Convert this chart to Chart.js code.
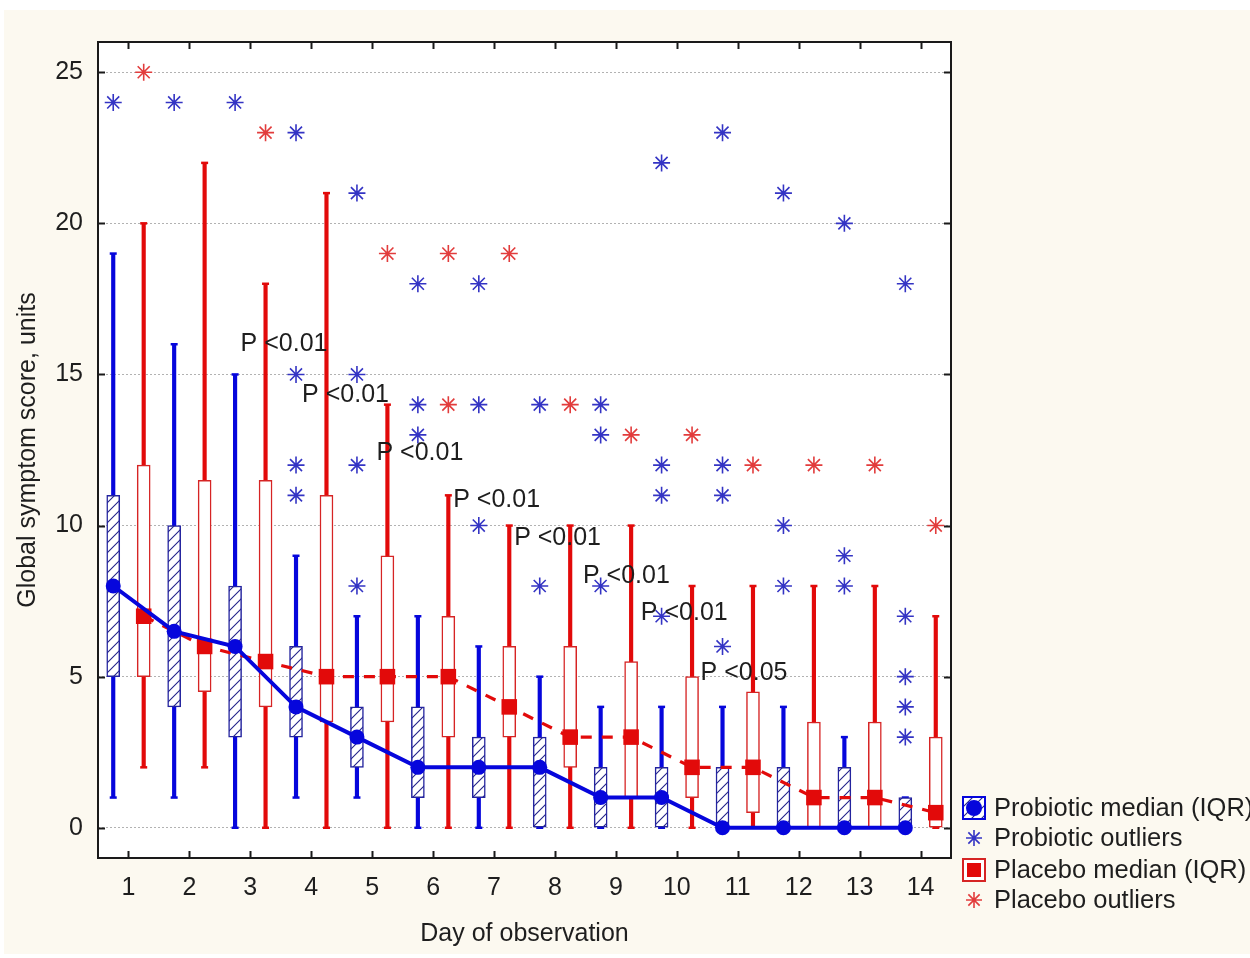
<!DOCTYPE html>
<html><head><meta charset="utf-8">
<script src="https://cdn.jsdelivr.net/npm/chart.js@4.4.0/dist/chart.umd.min.js"></script>
<style>html,body{margin:0;padding:0;background:#fff;overflow:hidden}canvas{display:block}</style>
</head><body>
<canvas id="c" width="1250" height="958" style="width:1250px;height:958px"></canvas>
<script>
// ---------- data ----------
const days = [1,2,3,4,5,6,7,8,9,10,11,12,13,14];
const xTickLabels = ['1','2','3','4','5','6','7','8','9','10','11','12','13','14'];
const yTickValues = [0,5,10,15,20,25];

const probMedian = [8,6.5,6,4,3,2,2,2,1,1,0,0,0,0];
const probQ1     = [5,4,3,3,2,1,1,0,0,0,0,0,0,0];
const probQ3     = [11,10,8,6,4,4,3,3,2,2,2,2,2,1];
const probMin    = [1,1,0,1,1,0,0,0,0,0,0,0,0,0];
const probMax    = [19,16,15,9,7,7,6,5,4,4,4,4,3,1];
const probOutliers = [[24],[24],[24],[23,15,12,11],[21,15,12,8],[18,14,13],[18,14,10],[14,8],[14,13,8],[22,12,11,7],[23,12,11,6],[21,10,8],[20,9,8],[18,7,5,4,3]];

const placMedian = [7,6,5.5,5,5,5,4,3,3,2,2,1,1,0.5];
const placQ1     = [5,4.5,4,3.5,3.5,3,3,2,1,1,0.5,0,0,0];
const placQ3     = [12,11.5,11.5,11,9,7,6,6,5.5,5,4.5,3.5,3.5,3];
const placMin    = [2,2,0,0,0,0,0,0,0,0,0,0,0,0];
const placMax    = [20,22,18,21,14,11,10,10,10,8,8,8,8,7];
const placOutliers = [[25],[],[23],[],[19],[19,14],[19],[14],[13],[13],[12],[12],[12],[10]];

const pLabelTexts = ['P <0.01','P <0.01','P <0.01','P <0.01','P <0.01','P <0.01','P <0.01','P <0.05'];
const pLabelX = [2.84, 3.85, 5.07, 6.33, 7.33, 8.46, 9.41, 10.39];
const pLabelY = [16.0, 14.3, 12.4, 10.85, 9.6, 8.33, 7.1, 5.13];

const legendLabels = ['Probiotic median (IQR)','Probiotic outliers','Placebo median (IQR)','Placebo outliers'];

// ---------- style ----------
const FONT = '"Liberation Sans", Arial, sans-serif';
const BLUE = '#0606dc', BLUE_BOX = '#23239e', BLUE_OUT = '#3434c4';
const RED = '#e20a0a', RED_BOX = '#d62424', RED_OUT = '#e23c3c';
const TXT = '#1e1e1e';
const PROB_OFF = -0.25, PLAC_OFF = 0.25;

const canvas = document.getElementById('c');
const ctx = canvas.getContext('2d');

function makeHatch() {
  const c = document.createElement('canvas');
  c.width = 10; c.height = 10;
  const g = c.getContext('2d');
  g.fillStyle = '#ffffff'; g.fillRect(0,0,10,10);
  g.strokeStyle = '#24248a'; g.lineWidth = 1.1;
  g.beginPath();
  g.moveTo(-1,11); g.lineTo(11,-1);
  g.moveTo(-1,1); g.lineTo(1,-1);
  g.moveTo(9,11); g.lineTo(11,9);
  g.stroke();
  return ctx.createPattern(c, 'repeat');
}
const hatch = makeHatch();

const px = (arr, off) => arr.map((v,i) => ({x: days[i] + off, y: v}));
const rng = (a, b, off) => a.map((v,i) => ({x: days[i] + off, y: [v, b[i]]}));
const caps = (a, b, off) => a.flatMap((v,i) => [{x: days[i] + off, y: v}, {x: days[i] + off, y: b[i]}]);
const outs = (arr, off) => arr.flatMap((list,i) => list.map(v => ({x: days[i] + off, y: v})));

const datasets = [
  {type:'bar', data: rng(probMin, probMax, PROB_OFF), backgroundColor: BLUE, borderWidth:0, barThickness:3.5, grouped:false, order:10},
  {type:'bar', data: rng(placMin, placMax, PLAC_OFF), backgroundColor: RED, borderWidth:0, barThickness:3.5, grouped:false, order:10},
  {type:'scatter', data: caps(probMin, probMax, PROB_OFF), pointStyle:'line', pointRadius:3.5, borderColor: BLUE, borderWidth:2.5, order:9},
  {type:'scatter', data: caps(placMin, placMax, PLAC_OFF), pointStyle:'line', pointRadius:3.5, borderColor: RED, borderWidth:2.5, order:9},
  {type:'bar', data: rng(probQ1, probQ3, PROB_OFF), backgroundColor: hatch, borderColor: BLUE_BOX, borderWidth:1.5, borderSkipped:false, barThickness:13, grouped:false, order:8},
  {type:'bar', data: rng(placQ1, placQ3, PLAC_OFF), backgroundColor: '#ffffff', borderColor: RED_BOX, borderWidth:1.5, borderSkipped:false, barThickness:13, grouped:false, order:8},
  {type:'line', data: px(placMedian, PLAC_OFF), borderColor: RED, borderWidth:3.2, borderDash:[11,10], tension:0, fill:false,
   pointStyle:'rect', pointRadius:11, pointBackgroundColor: RED, pointBorderColor: RED, pointBorderWidth:0, order:5},
  {type:'line', data: px(probMedian, PROB_OFF), borderColor: BLUE, borderWidth:4, tension:0, fill:false,
   pointStyle:'circle', pointRadius:7.5, pointBackgroundColor: BLUE, pointBorderColor: BLUE, pointBorderWidth:0, order:4},
  {type:'scatter', data: outs(probOutliers, PROB_OFF), pointStyle:'star', pointRadius:8.5, borderColor: BLUE_OUT, borderWidth:1.6, order:1},
  {type:'scatter', data: outs(placOutliers, PLAC_OFF), pointStyle:'star', pointRadius:8.5, borderColor: RED_OUT, borderWidth:1.6, order:1}
];

function star(c, x, y, r, color) {
  c.save(); c.strokeStyle = color; c.lineWidth = 1.6; c.beginPath();
  const d = r * Math.SQRT1_2;
  c.moveTo(x - r, y); c.lineTo(x + r, y);
  c.moveTo(x, y - r); c.lineTo(x, y + r);
  c.moveTo(x - d, y - d); c.lineTo(x + d, y + d);
  c.moveTo(x - d, y + d); c.lineTo(x + d, y - d);
  c.stroke(); c.restore();
}

const backgroundPlugin = {
  id: 'bg',
  beforeDraw(chart) {
    const c = chart.ctx, a = chart.chartArea;
    c.save();
    c.fillStyle = '#ffffff'; c.fillRect(0, 0, chart.width, chart.height);
    c.fillStyle = '#fcf9f0'; c.fillRect(4, 10, chart.width - 4, chart.height - 14);
    c.fillStyle = '#ffffff'; c.fillRect(a.left, a.top, a.right - a.left, a.bottom - a.top);
    c.restore();
  }
};

const framePlugin = {
  id: 'frame',
  afterDraw(chart) {
    const c = chart.ctx, a = chart.chartArea, xs = chart.scales.x, ys = chart.scales.y;
    c.save();
    c.strokeStyle = '#1a1a1a'; c.lineWidth = 2;
    c.strokeRect(a.left, a.top, a.right - a.left, a.bottom - a.top);
    c.beginPath();
    xs.ticks.forEach(t => {
      const p = Math.round(xs.getPixelForValue(t.value)) + 0.5;
      c.moveTo(p, a.bottom); c.lineTo(p, a.bottom - 7);
      c.moveTo(p, a.top); c.lineTo(p, a.top + 7);
    });
    ys.ticks.forEach(t => {
      const p = Math.round(ys.getPixelForValue(t.value)) + 0.5;
      c.moveTo(a.left, p); c.lineTo(a.left + 7, p);
      c.moveTo(a.right, p); c.lineTo(a.right - 7, p);
    });
    c.stroke();
    // P labels
    c.fillStyle = TXT; c.font = '25px ' + FONT; c.textAlign = 'left'; c.textBaseline = 'middle';
    pLabelTexts.forEach((t, i) => {
      c.fillText(t, xs.getPixelForValue(pLabelX[i]), ys.getPixelForValue(pLabelY[i]));
    });
    // legend
    const lx = a.right + 12, rows = [a.bottom - 50, a.bottom - 20, a.bottom + 12, a.bottom + 42];
    c.fillStyle = hatch; c.fillRect(lx, rows[0] - 11, 22, 22);
    c.strokeStyle = BLUE; c.lineWidth = 2; c.strokeRect(lx, rows[0] - 11, 22, 22);
    c.fillStyle = BLUE; c.beginPath(); c.arc(lx + 11, rows[0], 8, 0, Math.PI * 2); c.fill();
    star(c, lx + 11, rows[1], 8, BLUE_OUT);
    c.fillStyle = '#ffffff'; c.fillRect(lx, rows[2] - 11, 22, 22);
    c.strokeStyle = RED_BOX; c.lineWidth = 2; c.strokeRect(lx, rows[2] - 11, 22, 22);
    c.fillStyle = RED; c.fillRect(lx + 4, rows[2] - 7, 14, 14);
    star(c, lx + 11, rows[3], 8, RED_OUT);
    c.fillStyle = TXT; c.font = '25.5px ' + FONT; c.textAlign = 'left'; c.textBaseline = 'middle';
    legendLabels.forEach((t, i) => c.fillText(t, lx + 31, rows[i] + 1));
    c.restore();
  }
};

new Chart(ctx, {
  type: 'bar',
  data: { datasets },
  plugins: [backgroundPlugin, framePlugin],
  options: {
    responsive: false, animation: false, devicePixelRatio: 1,
    layout: { padding: { top: 42, right: 299, left: 0, bottom: 0 } },
    plugins: { legend: { display: false }, tooltip: { enabled: false } },
    scales: {
      x: {
        type: 'linear', min: 0.5, max: 14.5, offset: false,
        grid: { display: false, drawTicks: false },
        border: { display: false },
        afterBuildTicks: s => { s.ticks = days.map(v => ({ value: v })); },
        ticks: { padding: 15, color: TXT, font: { family: FONT, size: 25 }, maxRotation: 0,
                 callback: (v, i) => xTickLabels[i] },
        title: { display: true, text: 'Day of observation', color: TXT, font: { family: FONT, size: 25 },
                 padding: { top: 0, bottom: 9 } },
        afterFit: s => { s.height = 100; }
      },
      y: {
        type: 'linear', min: -1, max: 26,
        grid: { color: '#b2b2b2', lineWidth: 1, drawTicks: false },
        border: { display: false, dash: [2, 2] },
        afterBuildTicks: s => { s.ticks = yTickValues.map(v => ({ value: v })); },
        ticks: { padding: 15, color: TXT, font: { family: FONT, size: 25 } },
        title: { display: true, text: 'Global symptom score, units', color: TXT, font: { family: FONT, size: 25 },
                 padding: { top: 13, bottom: 0 } },
        afterFit: s => { s.width = 98; }
      }
    }
  }
});
</script>
</body></html>
